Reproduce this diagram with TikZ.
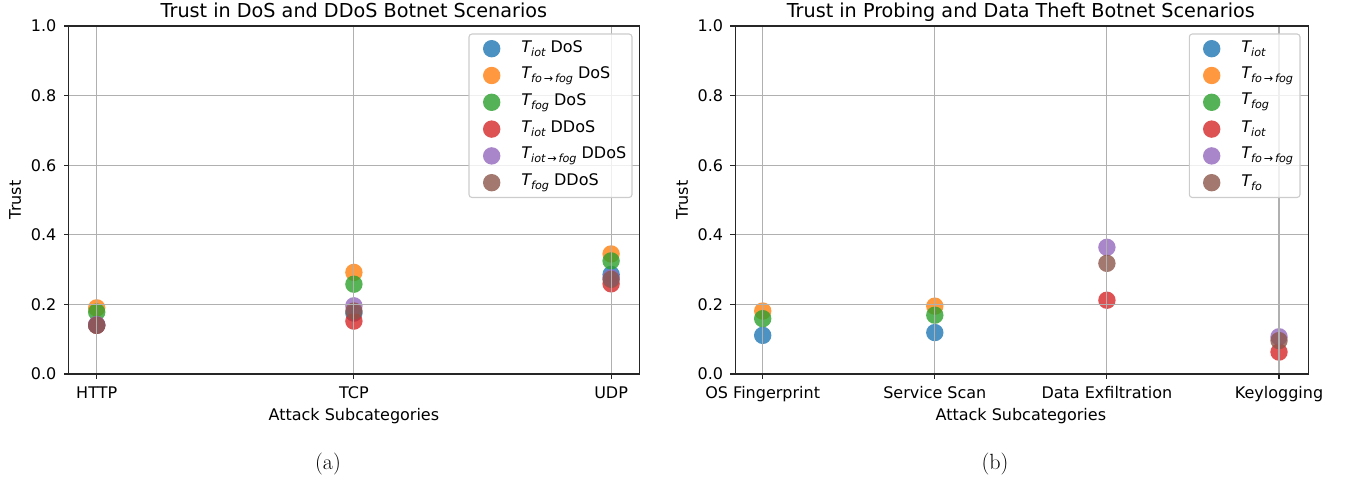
\documentclass[tikz,border=0pt]{standalone}
\usepackage{fontspec}
\usetikzlibrary{positioning}
\newfontfamily\plotfont{DejaVu Sans}

\definecolor{tabblue}{HTML}{1F77B4}
\definecolor{taborange}{HTML}{FF7F0E}
\definecolor{tabgreen}{HTML}{2CA02C}
\definecolor{tabred}{HTML}{D62728}
\definecolor{tabpurple}{HTML}{9467BD}
\definecolor{tabbrown}{HTML}{8C564B}
\definecolor{gridgray}{HTML}{B0B0B0}

% T with an italic subscript, as in the legends
\newcommand{\Tsub}[1]{{\itshape T}\raisebox{-0.25em}{\fontsize{11.2}{12}\selectfont\itshape #1}}
\newcommand{\toarrow}{{\upshape\,→\,}}

\begin{document}
\begin{tikzpicture}[x=1pt, y=1pt,
  every node/.style={font=\plotfont\fontsize{16}{19}\selectfont, inner sep=0pt},
  trustpt/.style={fill=#1, fill opacity=0.8},
  dot/.style={circle, fill=#1, fill opacity=0.8, minimum size=17.4pt, inner sep=0pt},
  gridline/.style={gridgray, line width=1.1pt},
  spine/.style={black!85, line width=1.1pt},
  legbox/.style={draw=black!20, fill=white, fill opacity=0.8, rounded corners=3pt, line width=1.1pt},
  plottitle/.style={font=\plotfont\fontsize{19.2}{23}\selectfont, anchor=base},
  caption/.style={font=\rmfamily\fontsize{22}{26}\selectfont}]
  \useasboundingbox (0,0) rectangle (1351,482);

  % DoS / DDoS plot
  \begin{scope}[shift={(96.7,108)}, x=257.2pt, y=348pt]
    \foreach \col/\a/\b/\c in {tabblue/0.140/0.175/0.286, taborange/0.190/0.292/0.345,
        tabgreen/0.178/0.258/0.325, tabred/0.140/0.152/0.259,
        tabpurple/0.142/0.196/0.276, tabbrown/0.140/0.181/0.272}
      \foreach \x/\y in {0/\a, 1/\b, 2/\c}
        \fill[trustpt=\col] (\x,\y) circle[radius=8.7pt];

    % grid
    \foreach \x in {0,1,2} \draw[gridline] (\x,0) -- (\x,1);
    \foreach \v in {0.2,0.4,0.6,0.8} \draw[gridline] (-0.11,\v) -- (2.11,\v);

    % axes
    \draw[spine] (-0.11,0) rectangle (2.11,1);
    \foreach \v [count=\k] in {0.0,0.2,0.4,0.6,0.8,1.0} {
      \draw[spine] (-0.11,\v) -- ++(-4.9pt,0);
      \node[anchor=east, xshift=-11.8pt] (ytickL\k) at (-0.11,\v) {\v};
    }
    \foreach \x/\lab in {0/HTTP, 1/TCP, 2/UDP} {
      \draw[spine] (\x,0) -- ++(0,-4.9pt);
      \node[anchor=base, yshift=-24.5pt] (xtickL\x) at (\x,0) {\lab};
    }
    \node[anchor=base, yshift=-46pt] (xlabelL) at (1,0) {Attack Subcategories};
    \node[rotate=90] (ylabelL) at (-0.317,0.5) {Trust};
    \node[plottitle] (titleL) at (1,1.0239) {Trust in DoS and DDoS Botnet Scenarios};
  \end{scope}

  % probing / data theft plot
  \begin{scope}[shift={(762.7,108)}, x=172.1pt, y=348pt]
    \foreach \col/\x/\y in {tabblue/0/0.111, tabblue/1/0.119,
        taborange/0/0.181, taborange/1/0.195, tabgreen/0/0.159, tabgreen/1/0.169,
        tabred/2/0.212, tabred/3/0.063, tabpurple/2/0.364, tabpurple/3/0.107,
        tabbrown/2/0.318, tabbrown/3/0.096}
      \fill[trustpt=\col] (\x,\y) circle[radius=8.7pt];

    % grid
    \foreach \x in {0,1,2,3} \draw[gridline] (\x,0) -- (\x,1);
    \foreach \v in {0.2,0.4,0.6,0.8} \draw[gridline] (-0.16,\v) -- (3.17,\v);

    % axes
    \draw[spine] (-0.16,0) rectangle (3.17,1);
    \foreach \v [count=\k] in {0.0,0.2,0.4,0.6,0.8,1.0} {
      \draw[spine] (-0.16,\v) -- ++(-4.9pt,0);
      \node[anchor=east, xshift=-11.8pt] (ytickR\k) at (-0.16,\v) {\v};
    }
    \foreach \x/\lab in {0/OS Fingerprint, 1/Service Scan, 2/Data Exfiltration, 3/Keylogging} {
      \draw[spine] (\x,0) -- ++(0,-4.9pt);
      \node[anchor=base, yshift=-24.5pt] (xtickR\x) at (\x,0) {\lab};
    }
    \node[anchor=base, yshift=-46pt] (xlabelR) at (1.5,0) {Attack Subcategories};
    \node[rotate=90] (ylabelR) at (-0.468,0.5) {Trust};
    \node[plottitle] (titleR) at (1.5,1.0239) {Trust in Probing and Data Theft Botnet Scenarios};
  \end{scope}

  % legend, left
  \draw[legbox] (469,448) rectangle (632,284.5);
  \node[dot=tabblue] (legL1) at (491.7,433.3) {};
  \node[dot=taborange, below=9pt of legL1] (legL2) {};
  \node[dot=tabgreen, below=9pt of legL2] (legL3) {};
  \node[dot=tabred, below=9pt of legL3] (legL4) {};
  \node[dot=tabpurple, below=9pt of legL4] (legL5) {};
  \node[dot=tabbrown, below=9pt of legL5] (legL6) {};
  \node[right=20.6pt of legL1] (txtL1) {\Tsub{iot} DoS};
  \node[right=20.6pt of legL2] (txtL2) {\Tsub{fo\toarrow fog} DoS};
  \node[right=20.6pt of legL3] (txtL3) {\Tsub{fog} DoS};
  \node[right=20.6pt of legL4] (txtL4) {\Tsub{iot} DDoS};
  \node[right=20.6pt of legL5] (txtL5) {\Tsub{iot\toarrow fog} DDoS};
  \node[right=20.6pt of legL6] (txtL6) {\Tsub{fog} DDoS};

  % legend, right
  \draw[legbox] (1189.3,448) rectangle (1300,284.5);
  \node[dot=tabblue] (legR1) at (1211.7,433.3) {};
  \node[dot=taborange, below=9pt of legR1] (legR2) {};
  \node[dot=tabgreen, below=9pt of legR2] (legR3) {};
  \node[dot=tabred, below=9pt of legR3] (legR4) {};
  \node[dot=tabpurple, below=9pt of legR4] (legR5) {};
  \node[dot=tabbrown, below=9pt of legR5] (legR6) {};
  \node[right=20.6pt of legR1] (txtR1) {\Tsub{iot}};
  \node[right=20.6pt of legR2] (txtR2) {\Tsub{fo\toarrow fog}};
  \node[right=20.6pt of legR3] (txtR3) {\Tsub{fog}};
  \node[right=20.6pt of legR4] (txtR4) {\Tsub{iot}};
  \node[right=20.6pt of legR5] (txtR5) {\Tsub{fo\toarrow fog}};
  \node[right=20.6pt of legR6] (txtR6) {\Tsub{fo}};

  % sub-captions
  \node[caption] (capA) at (328,18) {(a)};
  \node[caption] (capB) at (995,18) {(b)};
\end{tikzpicture}
\end{document}
